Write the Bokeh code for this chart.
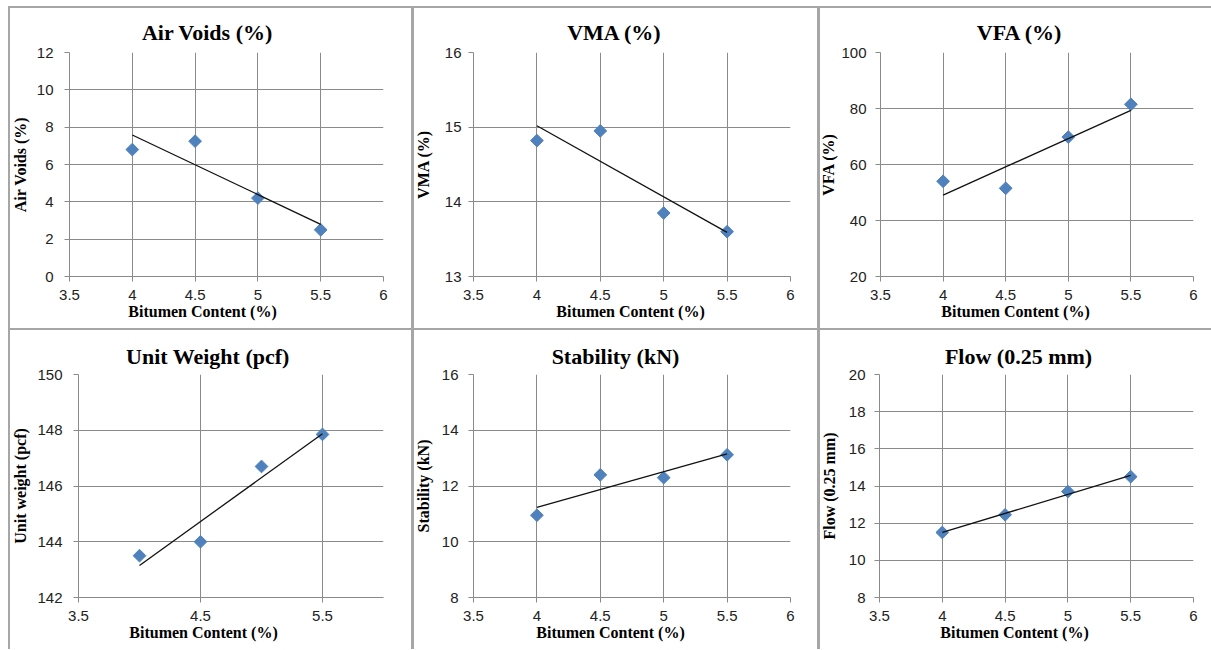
import numpy as np
from bokeh.plotting import figure
from bokeh.layouts import row, column
from bokeh.models import Range1d, FixedTicker, NumeralTickFormatter, Title, Spacer
from bokeh.embed import file_html
from bokeh.resources import INLINE

# ---------------- data ----------------
bitumen = [4.0, 4.5, 5.0, 5.5]
air_voids = [6.8, 7.25, 4.2, 2.5]
vma = [14.82, 14.95, 13.85, 13.6]
vfa = [54.0, 51.5, 69.8, 81.5]
unit_weight = [143.5, 144.0, 146.7, 147.85]
stability = [10.95, 12.4, 12.3, 13.12]
flow = [11.5, 12.45, 13.7, 14.5]

titles = ["Air Voids (%)", "VMA (%)", "VFA (%)",
          "Unit Weight (pcf)", "Stability (kN)", "Flow (0.25 mm)"]
y_labels = ["Air Voids (%)", "VMA (%)", "VFA (%)",
            "Unit weight (pcf)", "Stability (kN)", "Flow (0.25 mm)"]
x_labels = ["Bitumen  Content (%)", "Bitumen Content (%)", "Bitumen Content (%)",
            "Bitumen Content (%)", "Bitumen Content (%)", "Bitumen Content (%)"]

x_ticks = [3.5, 4, 4.5, 5, 5.5, 6]
x_ticks_uw = [3.5, 4.5, 5.5]
y_ticks_av = [0, 2, 4, 6, 8, 10, 12]
y_ticks_vma = [13, 14, 15, 16]
y_ticks_vfa = [20, 40, 60, 80, 100]
y_ticks_uw = [142, 144, 146, 148, 150]
y_ticks_st = [8, 10, 12, 14, 16]
y_ticks_fl = [8, 10, 12, 14, 16, 18, 20]

series = [air_voids, vma, vfa, unit_weight, stability, flow]
y_tick_sets = [y_ticks_av, y_ticks_vma, y_ticks_vfa, y_ticks_uw, y_ticks_st, y_ticks_fl]
x_tick_sets = [x_ticks, x_ticks, x_ticks, x_ticks_uw, x_ticks, x_ticks]

# ---------------- layout / style ----------------
# frame_left, frame_top, frame_w, frame_h, fig_w, fig_h, title_center, xlabel_center,
# ytick_standoff, ylabel_standoff, title_standoff, border css
geoms = [
    (61, 46, 314, 224, 403, 322, 200, 196, 11, 5, 15, "inset 2px 2px 0 0 #a6a6a6"),
    (59, 46, 317, 224, 403, 322, 200, 216, 7, 10, 15, "inset 3px 2px 0 0 #a6a6a6"),
    (60, 46, 313, 224, 396, 322, 200, 195, 9, 1, 15, "inset 3px 2px 0 0 #a6a6a6"),
    (70, 46, 305, 223, 403, 321, 200, 195, 11, 5, 12, "inset 2px 2px 0 0 #a6a6a6"),
    (59, 46, 317, 223, 403, 321, 201, 196, 10, 7, 12, "inset 3px 2px 0 0 #a6a6a6"),
    (60, 46, 314, 223, 396, 321, 199, 195, 9, 8, 12, "inset 3px 2px 0 0 #a6a6a6"),
]

GRID = "#8a8a8a"
BLUE = "#4F81BD"
SERIF = "Liberation Serif"
SANS = "Liberation Sans"
TITLE_PX = 22
XLAB_PX = 16

# advance widths (1/1000 em) of Liberation Serif Bold, used to centre texts on the cell
W_BOLD = {" ": 250, "(": 333, ")": 333, "%": 1000, ".": 250, "0": 500, "2": 500, "5": 500,
          "A": 722, "B": 667, "C": 722, "F": 611, "M": 944, "N": 722, "S": 556, "U": 722,
          "V": 722, "W": 1000, "a": 500, "b": 556, "c": 444, "d": 556, "e": 444, "f": 333,
          "g": 500, "h": 556, "i": 278, "k": 556, "l": 278, "m": 833, "n": 556, "o": 500,
          "p": 556, "r": 444, "s": 389, "t": 333, "u": 556, "w": 722, "y": 500}


def text_width(s, px):
    return sum(W_BOLD.get(c, 500) for c in s) * px / 1000.0


def style_title(t, size, standoff):
    t.text_font = SERIF
    t.text_font_size = f"{size}px"
    t.text_font_style = "bold"
    t.text_color = "black"
    t.align = "left"
    t.standoff = standoff


figs = []
for i in range(6):
    (left, top, fw, fh, W, H, tcenter, xlcenter,
     ytso, ylso, tso, css) = geoms[i]
    ys = series[i]
    yt = y_tick_sets[i]
    xt = x_tick_sets[i]
    p = figure(output_backend="svg", toolbar_location=None, tools="",
               x_range=Range1d(3.5, 6), y_range=Range1d(yt[0], yt[-1]),
               frame_width=fw, frame_height=fh,
               min_border_left=left, min_border_top=top,
               min_border_right=W - left - fw, min_border_bottom=H - top - fh,
               title=titles[i])
    p.styles = {"box-shadow": css, "background-color": "white"}
    p.border_fill_color = None
    p.background_fill_color = "white"
    p.outline_line_color = None

    style_title(p.title, TITLE_PX, tso)
    p.title.offset = tcenter - left - text_width(titles[i], TITLE_PX) / 2

    xtk = FixedTicker(ticks=xt)
    ytk = FixedTicker(ticks=yt)
    p.xaxis.ticker = xtk
    p.yaxis.ticker = ytk
    p.xgrid.ticker = xtk
    p.ygrid.ticker = ytk
    p.xaxis.formatter = NumeralTickFormatter(format="0.[0]")
    for g in (p.xgrid, p.ygrid):
        g.grid_line_color = GRID
        g.grid_line_width = 1
    for ax in (p.xaxis, p.yaxis):
        ax.axis_line_color = GRID
        ax.major_tick_line_color = GRID
        ax.major_tick_out = 5
        ax.major_tick_in = 0
        ax.minor_tick_line_color = None
        ax.major_label_text_font = SANS
        ax.major_label_text_font_size = "15px"
        ax.major_label_text_color = "#222222"
        ax.axis_label_text_font = SERIF
        ax.axis_label_text_font_size = "16px"
        ax.axis_label_text_font_style = "bold"
        ax.axis_label_text_color = "black"
    p.xaxis.major_label_standoff = 8
    p.yaxis.major_label_standoff = ytso
    p.yaxis.axis_label_standoff = ylso
    p.yaxis.axis_label = y_labels[i]

    # x-axis title, centred on the cell like the spreadsheet chart
    xt_title = Title(text=x_labels[i])
    style_title(xt_title, XLAB_PX, -4)
    xt_title.offset = xlcenter - left - text_width(x_labels[i], XLAB_PX) / 2
    p.add_layout(xt_title, "below")

    p.scatter(bitumen, ys, marker="square", angle=np.pi / 4, size=9,
              fill_color=BLUE, line_color=BLUE)
    k, b = np.polyfit(bitumen, ys, 1)
    xs = [bitumen[0], bitumen[-1]]
    p.line(xs, [k * x + b for x in xs], line_color="#111111", line_width=1.3)
    figs.append(p)

page = column(Spacer(height=6),
              row(Spacer(width=8), *figs[0:3]),
              row(Spacer(width=8), *figs[3:6]))
open("out.html", "w").write(file_html(page, INLINE))
